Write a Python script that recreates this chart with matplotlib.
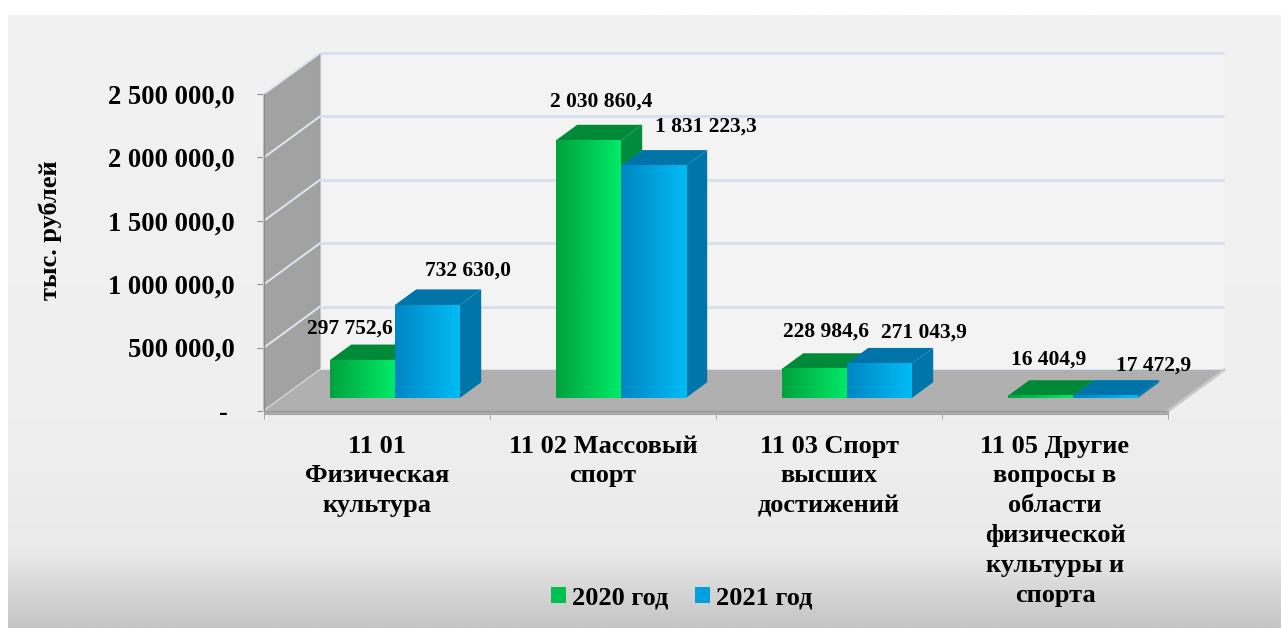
import numpy as np
import matplotlib
matplotlib.use("Agg")
import matplotlib.pyplot as plt
from matplotlib.patches import Polygon, Patch
from matplotlib.colors import to_rgb
from matplotlib.ticker import FuncFormatter, FixedLocator

# ---------------- data ----------------
categories = [
    "11 01\nФизическая\nкультура",
    "11 02 Массовый\nспорт",
    "11 03 Спорт\nвысших\nдостижений",
    "11 05 Другие\nвопросы в\nобласти\nфизической\nкультуры и\nспорта",
]
series_names = ["2020 год", "2021 год"]
values_2020 = [297752.6, 2030860.4, 228984.6, 16404.9]
values_2021 = [732630.0, 1831223.3, 271043.9, 17472.9]
y_ticks = [0, 500000, 1000000, 1500000, 2000000, 2500000]
y_title = "тыс. рублей"

# ---------------- style / layout ----------------
W, H, DPI = 1281, 628, 100
plt.rcParams['font.family'] = ['Liberation Serif', 'DejaVu Serif']
plt.rcParams['font.weight'] = 'bold'

front_colors = [("#00a23e", "#00ea66"), ("#0086c4", "#00bcf4")]
side_colors = ["#008c3a", "#0076a8"]
top_colors = ["#008a38", "#0074a8"]
legend_colors = ["#00c050", "#00a0dc"]

# label offsets (points) relative to top-front-centre of each bar
label_off = [
    [(-9, 23), (9, 28), (8, 27), (6, 26)],
    [(29, 25), (38, 28), (32, 22), (35, 22)],
]

fig = plt.figure(figsize=(W / DPI, H / DPI), dpi=DPI, facecolor="white")

# background panel with gradient
bg = fig.add_axes([8 / W, 0, 1 - 8 / W, (H - 15) / H], zorder=-10)
stops_y = np.array([0, 405, 535, 613]) / 613.0
stops_c = np.array([to_rgb(c) for c in ["#f2f2f2", "#efefef", "#eaeaea", "#c5c5c5"]])
yy = np.linspace(0, 1, 300)
grad = np.stack([np.interp(yy, stops_y, stops_c[:, k]) for k in range(3)], axis=-1)
bg.imshow(grad[:, None, :], aspect="auto", extent=(0, 1, 0, 1), origin="upper")
bg.set_axis_off()

# main axes = front plane of the 3D box
x_left, x_right, y_base, y_top = 264, 1168, 411, 94
ax = fig.add_axes([x_left / W, (H - y_base) / H, (x_right - x_left) / W, (y_base - y_top) / H])
ax.set_xlim(-0.5, 3.5)
ax.set_ylim(0, 2500000)
ax.patch.set_visible(False)

cat_px = (x_right - x_left) / 4.0
val_px = (y_base - y_top) / 2500000.0
DX = 56 / cat_px          # depth shift in category units
DY = 41 / val_px          # depth shift in value units


def P(x, v, d):
    return (x + DX * d, v + DY * d)


xmin, xmax, vmax = -0.5, 3.5, y_ticks[-1]

# back wall
ax.add_patch(Polygon([P(xmin, 0, 1), P(xmax, 0, 1), P(xmax, vmax, 1), P(xmin, vmax, 1)],
                     closed=True, facecolor="#f3f3f3", edgecolor="none", zorder=1, clip_on=False))
# left wall
ax.add_patch(Polygon([P(xmin, 0, 0), P(xmin, vmax, 0), P(xmin, vmax, 1), P(xmin, 0, 1)],
                     closed=True, facecolor="#a2a2a2", edgecolor="#9a9a9a", lw=0.8, zorder=2, clip_on=False))
# gridlines (back wall + left wall)
for t in y_ticks:
    bx0, by0 = P(xmin, t, 1)
    bx1, by1 = P(xmax, t, 1)
    ax.plot([bx0, bx1], [by0, by1], color="#d6def0", lw=2.0, zorder=2.5, clip_on=False,
            solid_capstyle="butt")
    lx0, ly0 = P(xmin, t, 0)
    ax.plot([lx0, bx0], [ly0, by0], color="#dfe6f2", lw=1.4, zorder=2.6, clip_on=False)
# floor
ax.add_patch(Polygon([P(xmin, 0, 0), P(xmax, 0, 0), P(xmax, 0, 1), P(xmin, 0, 1)],
                     closed=True, facecolor="#b0b0b0", edgecolor="none", zorder=3, clip_on=False))
fx0, fy0 = P(xmin, 0, 0)
fx1, fy1 = P(xmax, 0, 0)
ax.plot([fx0, fx1], [fy0 - 2 / val_px, fy1 - 2 / val_px], color="#a8a8a8", lw=3, zorder=3.1,
        clip_on=False, solid_capstyle="butt")
ax.plot([xmax, xmax + DX], [0, DY], color="#c8c8c8", lw=2, zorder=3.1, clip_on=False)

# bars
d0, d1 = 0.32, 0.70
bw = 65 / cat_px
series = [values_2020, values_2021]


def fmt(v):
    s = f"{v:,.1f}"
    return s.replace(",", " ").replace(".", ",")


for i in range(len(categories)):
    for s, vals in enumerate(series):
        v = vals[i]
        x0 = i - bw if s == 0 else i
        x1 = x0 + bw
        z = 5 + i * 2 + s
        # side face
        ax.add_patch(Polygon([P(x1, 0, d0), P(x1, v, d0), P(x1, v, d1), P(x1, 0, d1)],
                             closed=True, facecolor=side_colors[s], edgecolor="none", zorder=z, clip_on=False))
        # top face
        ax.add_patch(Polygon([P(x0, v, d0), P(x1, v, d0), P(x1, v, d1), P(x0, v, d1)],
                             closed=True, facecolor=top_colors[s], edgecolor="none", zorder=z, clip_on=False))
        # front face with horizontal gradient
        c0, c1 = np.array(to_rgb(front_colors[s][0])), np.array(to_rgb(front_colors[s][1]))
        t = np.linspace(0, 1, 64)[:, None]
        g = (c0 * (1 - t) + c1 * t)[None, :, :]
        ex0, ey0 = P(x0, 0, d0)
        ex1, ey1 = P(x1, v, d0)
        ax.imshow(g, aspect="auto", extent=(ex0, ex1, ey0, ey1), zorder=z + 0.5,
                  interpolation="bilinear", clip_on=False)
        # value label
        cx, cy = P((x0 + x1) / 2, v, d0)
        ax.annotate(fmt(v), xy=(cx, cy), xytext=label_off[s][i], textcoords="offset points",
                    ha="center", va="center", fontsize=15.5, fontweight="bold", zorder=30,
                    annotation_clip=False)

ax.set_xlim(-0.5, 3.5)
ax.set_ylim(0, 2500000)

# axes, ticks
for sp in ["top", "right"]:
    ax.spines[sp].set_visible(False)
ax.spines["left"].set_color("#8c8c8c")
ax.spines["bottom"].set_color("#9a9a9a")
ax.spines["left"].set_zorder(4)
ax.spines["bottom"].set_zorder(4)

ax.set_yticks(y_ticks)
ax.yaxis.set_major_formatter(FuncFormatter(lambda v, p: "- " if v == 0 else fmt(v)))
ax.tick_params(axis="y", direction="out", length=5, color="#8c8c8c", labelsize=19.2, pad=16)

ax.set_xticks(range(len(categories)))
ax.set_xticklabels(categories)
ax.xaxis.set_minor_locator(FixedLocator(np.arange(-0.5, 4.0, 1.0)))
ax.tick_params(axis="x", which="major", length=0, labelsize=19, pad=17)
ax.tick_params(axis="x", which="minor", length=6, direction="out", color="#9a9a9a")
for lbl in ax.get_xticklabels():
    lbl.set_multialignment("center")
    lbl.set_verticalalignment("top")
    lbl.set_linespacing(1.38)

fig.text(50 / W, 1 - 230 / H, y_title, rotation=90, ha="center", va="center",
         fontsize=19, fontweight="bold")

handles = [Patch(facecolor=legend_colors[k], edgecolor="none") for k in range(2)]
fig.legend(handles, series_names, loc="center", bbox_to_anchor=(682 / W, 1 - 598 / H), ncol=2,
           frameon=False, prop={"size": 19, "weight": "bold"}, handlelength=0.55, handleheight=0.55,
           handletextpad=0.25, columnspacing=1.0, borderaxespad=0)

fig.savefig("out.png", dpi=DPI, facecolor=fig.get_facecolor())
